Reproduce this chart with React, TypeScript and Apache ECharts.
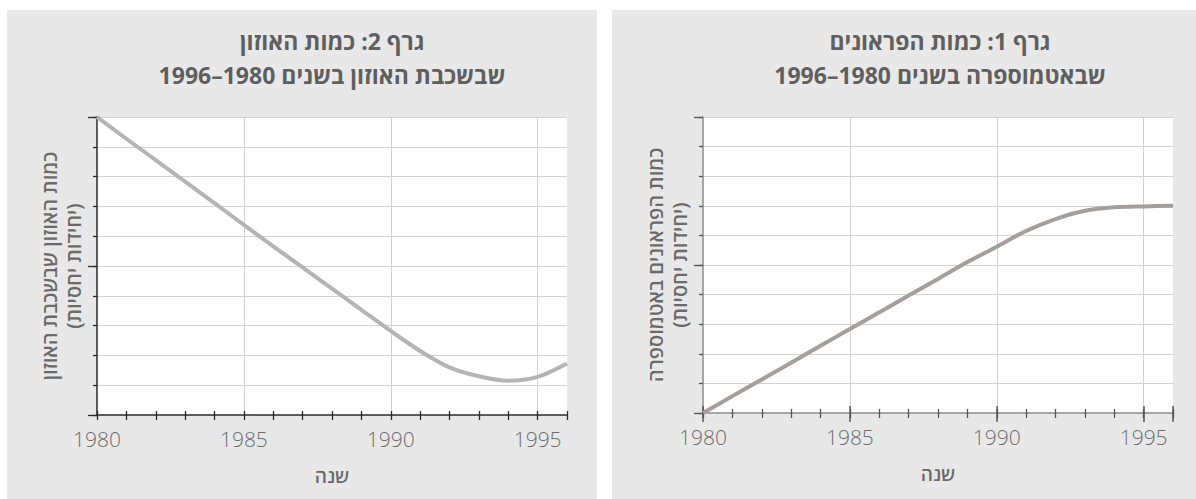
import React, { useEffect, useRef } from "react";
import * as echarts from "echarts";

// ---------- data ----------
const years = [1980, 1981, 1982, 1983, 1984, 1985, 1986, 1987, 1988, 1989, 1990, 1991, 1992, 1993, 1994, 1995, 1996];
const ozoneValues = [10, 9.27, 8.55, 7.83, 7.11, 6.38, 5.66, 4.95, 4.24, 3.53, 2.82, 2.15, 1.6, 1.3, 1.15, 1.28, 1.73];
const cfcValues = [0, 0.57, 1.13, 1.7, 2.27, 2.84, 3.4, 3.97, 4.53, 5.1, 5.62, 6.15, 6.55, 6.83, 6.95, 6.98, 7.0];
const xLabelYears = [1980, 1985, 1990, 1995];
const yRange = [0, 10];

const leftTitle = ["גרף 2: כמות האוזון", "שבשכבת האוזון בשנים 1980–1996"];
const rightTitle = ["גרף 1: כמות הפראונים", "שבאטמוספרה בשנים 1980–1996"];
const leftYName = ["כמות האוזון שבשכבת האוזון", "(יחידות יחסיות)"];
const rightYName = ["כמות הפראונים באטמוספרה", "(יחידות יחסיות)"];
const xName = "שנה";

// ---------- style ----------
const FONT = "'Open Sans', 'DejaVu Sans', sans-serif";
const GRID_COLOR = "#d2d2d2";

function xAxes(gridIndex: number, lineColor: string, tickColor: string, majorTicks: boolean) {
  const base = {
    type: "value",
    gridIndex,
    min: years[0],
    max: years[years.length - 1],
    position: "bottom",
  };
  const axes: any[] = [
    {
      ...base,
      interval: 1,
      name: xName,
      nameLocation: "middle",
      nameGap: 51,
      nameTextStyle: { fontFamily: FONT, fontSize: 19, fontWeight: 600, color: "#6a6a6a" },
      axisLine: { show: true, lineStyle: { color: lineColor, width: 1.5 } },
      axisTick: { show: true, length: 5, lineStyle: { color: tickColor, width: 1.3 } },
      axisLabel: {
        show: true,
        margin: 13,
        fontFamily: FONT,
        fontSize: 21,
        fontWeight: 300,
        color: "#6d6d6d",
        formatter: (v: number) => (xLabelYears.indexOf(v) >= 0 ? String(v) : ""),
      },
      splitLine: { show: false },
    },
    {
      ...base,
      interval: 1,
      axisLine: { show: false },
      axisTick: { show: true, inside: true, length: 4, lineStyle: { color: tickColor, width: 1.3 } },
      axisLabel: { show: false },
      splitLine: { show: false },
    },
    {
      ...base,
      interval: 5,
      axisLine: { show: false },
      axisTick: { show: majorTicks, length: 9, lineStyle: { color: tickColor, width: 1.5 } },
      axisLabel: { show: false },
      splitLine: { show: true, showMinLine: false, showMaxLine: false, lineStyle: { color: GRID_COLOR, width: 1 } },
    },
  ];
  if (majorTicks) {
    axes.push({
      ...base,
      interval: 5,
      axisLine: { show: false },
      axisTick: { show: true, inside: true, length: 7, lineStyle: { color: tickColor, width: 1.5 } },
      axisLabel: { show: false },
      splitLine: { show: false },
    });
  }
  return axes;
}

function yAxes(gridIndex: number, nameLines: string[], lineColor: string, tickColor: string) {
  const base = { type: "value", gridIndex, min: yRange[0], max: yRange[1], position: "left" };
  return [
    {
      ...base,
      interval: 1,
      name: nameLines.join("\n"),
      nameLocation: "middle",
      nameRotate: 90,
      nameGap: 12,
      nameTextStyle: { fontFamily: FONT, fontSize: 20, fontWeight: 600, color: "#6a6a6a", lineHeight: 24 },
      axisLine: { show: true, lineStyle: { color: lineColor, width: 1.5 } },
      axisTick: { show: true, length: 4, lineStyle: { color: tickColor, width: 1.3 } },
      axisLabel: { show: false },
      splitLine: { show: true, showMinLine: false, lineStyle: { color: GRID_COLOR, width: 1 } },
    },
    {
      ...base,
      interval: 5,
      axisLine: { show: false },
      axisTick: { show: true, length: 9, lineStyle: { color: tickColor, width: 1.3 } },
      axisLabel: { show: false },
      splitLine: { show: false },
    },
  ];
}

function titleTexts(lines: string[], cx: number) {
  return lines.map((t, i) => ({
    type: "text",
    x: cx,
    y: 41 + i * 34,
    z: 10,
    style: {
      text: t,
      align: "center",
      verticalAlign: "middle",
      fontFamily: FONT,
      fontSize: 23,
      fontWeight: "bold",
      fill: "#5f5f5f",
    },
  }));
}

export default function App() {
  const ref = useRef<HTMLDivElement>(null);

  useEffect(() => {
    if (!ref.current) return;
    const chart = echarts.init(ref.current, null, { renderer: "svg" });

    const leftX = xAxes(0, "#2a2a2a", "#2a2a2a", false);
    const rightX = xAxes(1, "#8c8c8c", "#555555", true);
    const leftY = yAxes(0, leftYName, "#2a2a2a", "#2a2a2a");
    const rightY = yAxes(1, rightYName, "#8c8c8c", "#555555");

    const option: any = {
      animation: false,
      backgroundColor: "#ffffff",
      grid: [
        { left: 97, top: 117, width: 470, height: 298, show: true, backgroundColor: "#ffffff", borderWidth: 0 },
        { left: 703, top: 117, width: 470, height: 296, show: true, backgroundColor: "#ffffff", borderWidth: 0 },
      ],
      xAxis: [...leftX, ...rightX],
      yAxis: [...leftY, ...rightY],
      graphic: [
        { type: "rect", z: -10, shape: { x: 7, y: 10, width: 590, height: 495 }, style: { fill: "#e8e8e8" } },
        { type: "rect", z: -10, shape: { x: 612, y: 10, width: 590, height: 495 }, style: { fill: "#e8e8e8" } },
        ...titleTexts(leftTitle, 332),
        ...titleTexts(rightTitle, 940),
      ],
      series: [
        {
          type: "line",
          xAxisIndex: 0,
          yAxisIndex: 0,
          data: years.map((y, i) => [y, ozoneValues[i]]),
          smooth: 0.3,
          showSymbol: false,
          symbol: "none",
          lineStyle: { color: "#b4b4b4", width: 4 },
          z: 5,
        },
        {
          type: "line",
          xAxisIndex: leftX.length,
          yAxisIndex: leftY.length,
          data: years.map((y, i) => [y, cfcValues[i]]),
          smooth: 0.3,
          showSymbol: false,
          symbol: "none",
          lineStyle: { color: "#a49e9c", width: 4 },
          z: 5,
        },
      ],
    };
    chart.setOption(option);
    return () => chart.dispose();
  }, []);

  return (
    <div
      ref={ref}
      style={{ position: "fixed", left: 0, top: 0, width: 1196, height: 499 }}
    />
  );
}
